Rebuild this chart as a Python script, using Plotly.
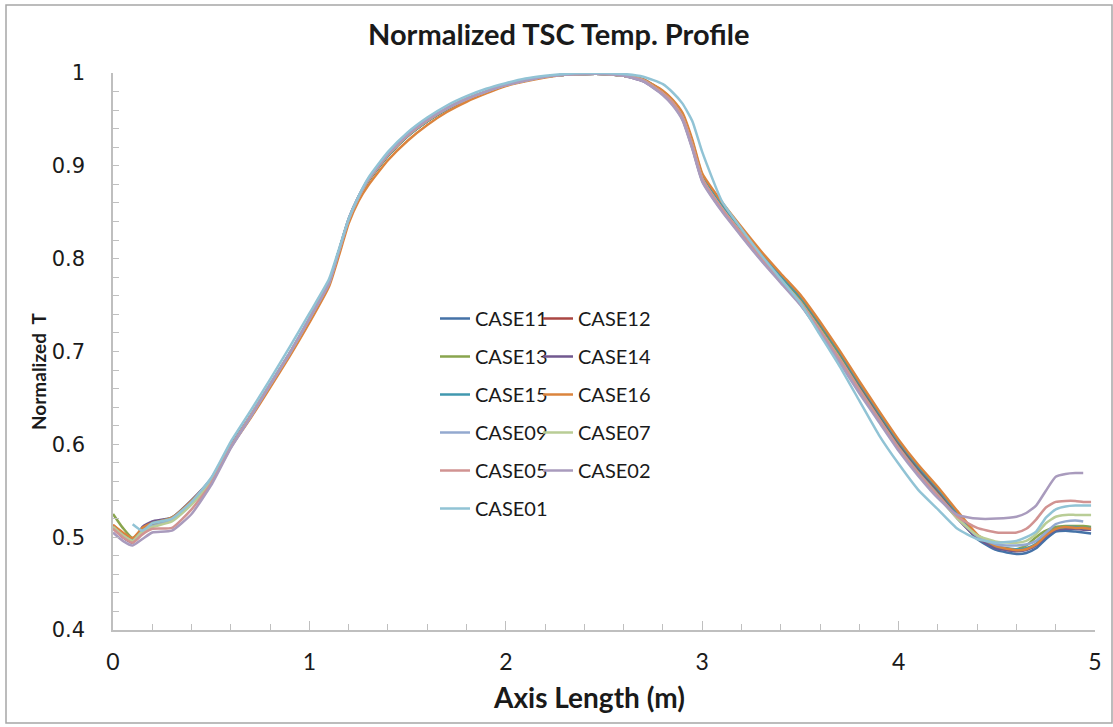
import plotly.graph_objects as go

X = [0.0, 0.05, 0.1, 0.15, 0.2,
     0.3, 0.4, 0.5, 0.6, 0.7, 0.8, 0.9, 1.0, 1.1,
     1.15, 1.2, 1.25, 1.3,
     1.4, 1.5, 1.6, 1.7, 1.8, 1.9, 2.0, 2.1, 2.2, 2.3, 2.4, 2.5, 2.6, 2.7, 2.8,
     2.85, 2.9, 2.95, 3.0,
     3.1, 3.2, 3.3, 3.4, 3.5, 3.6, 3.7, 3.8, 3.9, 4.0, 4.1, 4.2, 4.3, 4.4, 4.5, 4.6,
     4.65, 4.7, 4.75, 4.8, 4.85, 4.9, 4.94, 4.98]

CASE11 = [0.512, 0.503, 0.497, 0.508, 0.513,
          0.519, 0.537, 0.560, 0.598, 0.630, 0.664, 0.698, 0.735, 0.774,
          0.808, 0.842, 0.866, 0.884,
          0.911, 0.932, 0.948, 0.961, 0.972, 0.980, 0.987, 0.992, 0.996, 0.998, 0.999, 0.999, 0.997, 0.992, 0.979,
          0.969, 0.953, 0.923, 0.887,
          0.856, 0.829, 0.803, 0.779, 0.755, 0.726, 0.695, 0.662, 0.631, 0.600, 0.573, 0.549, 0.523, 0.498, 0.486, 0.482,
          0.483, 0.488, 0.498, 0.506, 0.507, 0.506, 0.505, 0.504]
CASE12 = [0.513, 0.504, 0.498, 0.509, 0.514,
          0.520, 0.538, 0.561, 0.598, 0.630, 0.664, 0.698, 0.735, 0.774,
          0.808, 0.842, 0.866, 0.884,
          0.911, 0.932, 0.948, 0.961, 0.972, 0.980, 0.987, 0.992, 0.996, 0.998, 0.999, 0.999, 0.997, 0.993, 0.980,
          0.970, 0.955, 0.925, 0.889,
          0.858, 0.831, 0.805, 0.781, 0.758, 0.729, 0.698, 0.665, 0.633, 0.602, 0.575, 0.551, 0.525, 0.501, 0.489, 0.485,
          0.487, 0.492, 0.502, 0.509, 0.510, 0.510, 0.509, 0.509]
CASE13 = [0.525, 0.510, 0.499, 0.508, 0.513,
          0.519, 0.537, 0.561, 0.598, 0.630, 0.664, 0.698, 0.735, 0.774,
          0.808, 0.842, 0.866, 0.884,
          0.911, 0.932, 0.948, 0.961, 0.972, 0.980, 0.987, 0.992, 0.996, 0.998, 0.999, 0.999, 0.997, 0.992, 0.979,
          0.969, 0.954, 0.924, 0.888,
          0.856, 0.829, 0.803, 0.779, 0.755, 0.725, 0.694, 0.660, 0.628, 0.597, 0.570, 0.546, 0.521, 0.499, 0.489, 0.487,
          0.491, 0.500, 0.507, 0.511, 0.512, 0.512, 0.512, 0.511]
CASE14 = [0.510, 0.500, 0.494, 0.511, 0.517,
          0.521, 0.540, 0.563, 0.599, 0.631, 0.664, 0.698, 0.734, 0.773,
          0.808, 0.843, 0.867, 0.885,
          0.912, 0.933, 0.949, 0.962, 0.972, 0.980, 0.987, 0.992, 0.996, 0.998, 0.999, 0.999, 0.997, 0.991, 0.977,
          0.966, 0.950, 0.919, 0.884,
          0.852, 0.825, 0.799, 0.775, 0.751, 0.721, 0.690, 0.657, 0.626, 0.595, 0.568, 0.544, 0.520, 0.499, 0.488, 0.485,
          0.486, 0.491, 0.501, 0.508, 0.509, 0.509, 0.508, 0.508]
CASE15 = [0.512, 0.503, 0.497, 0.509, 0.515,
          0.521, 0.539, 0.562, 0.598, 0.630, 0.664, 0.698, 0.735, 0.774,
          0.808, 0.842, 0.866, 0.884,
          0.911, 0.932, 0.948, 0.961, 0.972, 0.980, 0.987, 0.992, 0.996, 0.998, 0.999, 0.999, 0.997, 0.993, 0.980,
          0.970, 0.955, 0.926, 0.890,
          0.859, 0.832, 0.806, 0.782, 0.759, 0.730, 0.699, 0.666, 0.634, 0.603, 0.576, 0.552, 0.526, 0.502, 0.490, 0.487,
          0.488, 0.493, 0.503, 0.509, 0.511, 0.511, 0.510, 0.510]
CASE16 = [0.513, 0.505, 0.499, 0.510, 0.515,
          0.521, 0.539, 0.562, 0.597, 0.628, 0.661, 0.695, 0.731, 0.770,
          0.803, 0.838, 0.862, 0.879,
          0.906, 0.927, 0.944, 0.958, 0.969, 0.978, 0.986, 0.991, 0.995, 0.998, 0.999, 0.999, 0.997, 0.993, 0.981,
          0.971, 0.957, 0.928, 0.892,
          0.861, 0.834, 0.808, 0.784, 0.761, 0.732, 0.701, 0.668, 0.636, 0.605, 0.578, 0.554, 0.528, 0.503, 0.490, 0.486,
          0.487, 0.492, 0.502, 0.509, 0.511, 0.510, 0.510, 0.509]
CASE09 = [0.511, 0.502, 0.496, 0.507, 0.512,
          0.518, 0.536, 0.560, 0.598, 0.631, 0.665, 0.699, 0.736, 0.774,
          0.808, 0.842, 0.866, 0.885,
          0.912, 0.933, 0.949, 0.962, 0.972, 0.980, 0.987, 0.992, 0.996, 0.998, 0.999, 0.999, 0.997, 0.992, 0.978,
          0.968, 0.952, 0.921, 0.886,
          0.854, 0.827, 0.801, 0.777, 0.753, 0.723, 0.692, 0.659, 0.627, 0.596, 0.569, 0.545, 0.521, 0.501, 0.492, 0.491,
          0.492, 0.496, 0.505, 0.514, 0.517, 0.518, 0.517, None]
CASE07 = [0.511, 0.502, 0.496, 0.506, 0.511,
          0.517, 0.535, 0.559, 0.597, 0.630, 0.664, 0.698, 0.735, 0.774,
          0.808, 0.842, 0.866, 0.885,
          0.912, 0.933, 0.949, 0.962, 0.972, 0.980, 0.987, 0.992, 0.996, 0.998, 0.999, 0.999, 0.997, 0.992, 0.978,
          0.968, 0.952, 0.922, 0.886,
          0.854, 0.827, 0.801, 0.777, 0.753, 0.723, 0.692, 0.658, 0.626, 0.595, 0.568, 0.544, 0.520, 0.502, 0.495, 0.494,
          0.496, 0.503, 0.515, 0.522, 0.524, 0.524, 0.524, 0.524]
CASE05 = [0.509, 0.500, 0.494, 0.503, 0.509,
          0.510, 0.530, 0.558, 0.597, 0.630, 0.664, 0.698, 0.735, 0.774,
          0.808, 0.842, 0.866, 0.885,
          0.912, 0.933, 0.949, 0.962, 0.972, 0.980, 0.987, 0.992, 0.996, 0.998, 0.999, 0.999, 0.997, 0.992, 0.978,
          0.968, 0.952, 0.922, 0.886,
          0.854, 0.827, 0.801, 0.777, 0.753, 0.723, 0.692, 0.659, 0.627, 0.596, 0.569, 0.545, 0.522, 0.510, 0.505, 0.505,
          0.509, 0.519, 0.532, 0.538, 0.539, 0.539, 0.538, 0.538]
CASE02 = [0.505, 0.496, 0.491, 0.498, 0.505,
          0.507, 0.525, 0.556, 0.596, 0.629, 0.664, 0.698, 0.735, 0.773,
          0.808, 0.843, 0.867, 0.886,
          0.913, 0.934, 0.950, 0.962, 0.972, 0.980, 0.987, 0.992, 0.996, 0.998, 0.999, 0.999, 0.997, 0.991, 0.976,
          0.965, 0.949, 0.918, 0.883,
          0.851, 0.824, 0.798, 0.774, 0.750, 0.720, 0.688, 0.655, 0.624, 0.593, 0.566, 0.542, 0.524, 0.520, 0.520, 0.522,
          0.526, 0.534, 0.550, 0.565, 0.568, 0.569, 0.569, None]
CASE01 = [None, None, 0.514, 0.507, 0.515,
          0.520, 0.538, 0.564, 0.603, 0.636, 0.670, 0.705, 0.741, 0.778,
          0.810, 0.843, 0.867, 0.887,
          0.915, 0.936, 0.952, 0.965, 0.975, 0.983, 0.989, 0.994, 0.997, 0.999, 1.000, 1.000, 0.999, 0.996, 0.988,
          0.979, 0.967, 0.948, 0.915,
          0.862, 0.832, 0.804, 0.778, 0.752, 0.718, 0.684, 0.647, 0.610, 0.579, 0.551, 0.530, 0.509, 0.498, 0.494, 0.496,
          0.500, 0.506, 0.521, 0.530, 0.533, 0.534, 0.534, 0.534]

SERIES_NAMES = ["CASE11", "CASE12", "CASE13", "CASE14", "CASE15", "CASE16",
                "CASE09", "CASE07", "CASE05", "CASE02", "CASE01"]
SERIES_VALUES = [CASE11, CASE12, CASE13, CASE14, CASE15, CASE16,
                 CASE09, CASE07, CASE05, CASE02, CASE01]
COLORS = ["#4572A7", "#AA4643", "#89A54E", "#71588F", "#4198AF", "#DB843D",
          "#93A9CF", "#B9CD96", "#D19392", "#A99BBD", "#91C3D5"]
LEGEND_COL = ["legend", "legend2", "legend", "legend2", "legend", "legend2",
              "legend", "legend2", "legend", "legend2", "legend"]

X_TICKS = [0, 1, 2, 3, 4, 5]
Y_TICKS = [0.4, 0.5, 0.6, 0.7, 0.8, 0.9, 1.0]

fig = go.Figure()
for name, vals, col, lg in zip(SERIES_NAMES, SERIES_VALUES, COLORS, LEGEND_COL):
    fig.add_trace(go.Scatter(
        x=X, y=vals, name=name, mode="lines",
        line=dict(color=col, width=2.5, shape="spline", smoothing=0.5),
        legend=lg, legendgroup=name,
    ))

W, H = 1113, 727
ML, MR, MT, MB = 113, 18, 73, 97
PW, PH = W - ML - MR, H - MT - MB


def px_x(p):
    return (p - ML) / PW


def px_y(p):
    return (H - MB - p) / PH


AX = "#bfbfbf"
TXT = "#1a1a1a"
leg_common = dict(font=dict(family="Lato", size=20, color=TXT), bgcolor="rgba(0,0,0,0)",
                  itemwidth=30, tracegroupgap=9, xanchor="left", yanchor="top",
                  itemclick=False)

fig.update_layout(
    width=W, height=H,
    margin=dict(l=ML, r=MR, t=MT, b=MB, pad=0),
    paper_bgcolor="white", plot_bgcolor="white",
    title=dict(text="<b>Normalized TSC Temp. Profile</b>", x=0.502, xref="container",
               y=1 - 35 / H, yref="container", xanchor="center", yanchor="middle",
               font=dict(family="Lato", size=29, color=TXT)),
    legend=dict(x=px_x(435), y=px_y(299), **leg_common),
    legend2=dict(x=px_x(538), y=px_y(299), **leg_common),
    xaxis=dict(range=[0, 5], tickmode="array", tickvals=X_TICKS,
               ticks="inside", ticklen=9, tickcolor=AX, tickwidth=1,
               showline=True, linecolor=AX, linewidth=1.5, showgrid=False, zeroline=False,
               tickfont=dict(family="Lato", size=23, color=TXT), ticklabelstandoff=11,
               minor=dict(dtick=0.2, tick0=0, ticks="inside", ticklen=6, tickcolor=AX, showgrid=False)),
    yaxis=dict(range=[0.4, 1.0], tickmode="array", tickvals=Y_TICKS,
               ticks="inside", ticklen=6, tickcolor=AX, tickwidth=1,
               showline=True, linecolor=AX, linewidth=1.5, showgrid=False, zeroline=False,
               tickfont=dict(family="DejaVu Sans", size=21, color=TXT), ticklabelstandoff=22,
               minor=dict(dtick=0.02, tick0=0.4, ticks="inside", ticklen=6, tickcolor=AX, showgrid=False)),
    annotations=[
        dict(text="<b>Axis Length (m)</b>", x=px_x(589), y=px_y(697), xref="paper", yref="paper",
             xanchor="center", yanchor="middle", showarrow=False,
             font=dict(family="Lato", size=28, color=TXT)),
        dict(text="<b>Normalized\u00a0 T</b>", x=px_x(38), y=px_y(371), xref="paper", yref="paper",
             xanchor="center", yanchor="middle", showarrow=False, textangle=-90,
             font=dict(family="Lato", size=19, color=TXT)),
    ],
    shapes=[dict(type="rect", xref="paper", yref="paper",
                 x0=px_x(6), x1=px_x(1112), y0=px_y(723), y1=px_y(5),
                 line=dict(color="#a6a6a6", width=1.5), fillcolor="rgba(0,0,0,0)", layer="below")],
)

fig.write_html("out.html")
